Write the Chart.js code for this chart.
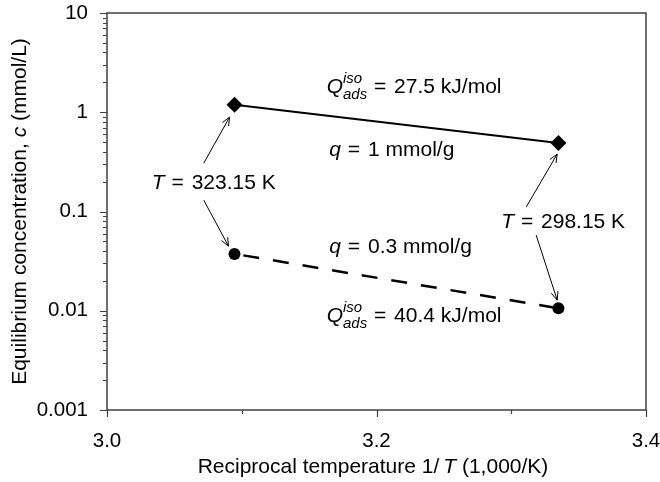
<!DOCTYPE html>
<html>
<head>
<meta charset="utf-8">
<script src="https://cdn.jsdelivr.net/npm/chart.js@4"></script>
<style>
  html, body { margin: 0; padding: 0; background: #fff; }
  #wrap { width: 660px; height: 482px; }
</style>
</head>
<body>
<div id="wrap"><canvas id="chart"></canvas></div>
<script>
// reciprocal temperature 1000/T for 323.15 K and 298.15 K
const invT = [3.0946, 3.335];
const cHighQ = [1.19, 0.49];     // q = 1 mmol/g
const cLowQ = [0.0374, 0.0106];  // q = 0.3 mmol/g
const xTicks = [3.0, 3.1, 3.2, 3.3, 3.4];
const xLabels = ["3.0", "", "3.2", "", "3.4"];
const yTicks = [0.001, 0.01, 0.1, 1, 10];
const yLabels = ["0.001", "0.01", "0.1", "1", "10"];

const FONT = '"Liberation Sans", Arial, sans-serif';
const axisColor = "#404040";
const TXT = 21;

// "=" gets a little extra room, like typeset maths
const eq = (rest) => [{ t: " =", gap: 1 }, { t: " " + rest, gap: 2 }];

// annotation anchors in data units
const notes = [
  { x: 3.163, y: 1.80, parts: [{ t: "Q", it: true }, { sup: "iso", sub: "ads" }, ...eq("27.5 kJ/mol")] },
  { x: 3.165, y: 0.415, parts: [{ t: "q", it: true }, ...eq("1 mmol/g")] },
  { x: 3.0333, y: 0.193, parts: [{ t: "T", it: true }, ...eq("323.15 K")] },
  { x: 3.2926, y: 0.078, parts: [{ t: "T", it: true }, ...eq("298.15 K")] },
  { x: 3.165, y: 0.0436, parts: [{ t: "q", it: true }, ...eq("0.3 mmol/g")] },
  { x: 3.163, y: 0.0089, parts: [{ t: "Q", it: true }, { sup: "iso", sub: "ads" }, ...eq("40.4 kJ/mol")] },
];
const arrows = [
  [3.0718, 0.307, 3.0910, 0.895],
  [3.0718, 0.130, 3.0902, 0.0447],
  [3.3111, 0.111, 3.3341, 0.379],
  [3.3185, 0.0578, 3.3341, 0.0128],
];

function setFont(ctx, it, size) {
  ctx.font = (it ? "italic " : "") + size + "px " + FONT;
}

function drawRich(ctx, parts, x, y, size) {
  ctx.textBaseline = "middle";
  ctx.textAlign = "left";
  parts.forEach((p) => {
    if (p.sup) {
      setFont(ctx, true, 15);
      const w = Math.max(ctx.measureText(p.sup).width, ctx.measureText(p.sub).width);
      ctx.fillText(p.sup, x, y - 8);
      ctx.fillText(p.sub, x, y + 8);
      x += w;
    } else {
      setFont(ctx, p.it, size);
      ctx.fillText(p.t, x + (p.gap || 0), y);
      x += ctx.measureText(p.t).width + (p.gap || 0);
    }
  });
  return x;
}

function richWidth(ctx, parts, size) {
  let w = 0;
  parts.forEach((p) => {
    setFont(ctx, p.it, size);
    w += ctx.measureText(p.t).width + (p.gap || 0);
  });
  return w;
}

const decor = {
  id: "decor",
  afterDraw(chart) {
    const ctx = chart.ctx;
    const a = chart.chartArea;
    const xs = chart.scales.x;
    const ys = chart.scales.y;
    ctx.save();

    // frame
    ctx.strokeStyle = axisColor;
    ctx.lineWidth = 1.5;
    ctx.strokeRect(a.left, a.top, a.right - a.left, a.bottom - a.top);

    // x ticks
    ctx.lineWidth = 1.2;
    ctx.beginPath();
    xTicks.forEach((v, i) => {
      const px = Math.round(xs.getPixelForValue(v)) + 0.5;
      ctx.moveTo(px, a.bottom);
      ctx.lineTo(px, a.bottom + (xLabels[i] ? 7 : 4));
    });
    // y ticks, major + minor
    yTicks.forEach((v, i) => {
      const py = Math.round(ys.getPixelForValue(v)) + 0.5;
      ctx.moveTo(a.left, py);
      ctx.lineTo(a.left - 7, py);
      if (i < yTicks.length - 1) {
        for (let m = 2; m <= 9; m++) {
          const pm = Math.round(ys.getPixelForValue(v * m)) + 0.5;
          ctx.moveTo(a.left, pm);
          ctx.lineTo(a.left - 4, pm);
        }
      }
    });
    ctx.stroke();

    // axis titles
    ctx.fillStyle = "#000";
    const xt = [{ t: "Reciprocal temperature 1/" }, { t: "T", it: true, gap: 4 }, { t: " (1,000/K)" }];
    const wx = richWidth(ctx, xt, TXT);
    drawRich(ctx, xt, 373 - wx / 2, 467, TXT);

    const yt = [{ t: "Equilibrium concentration, " }, { t: "c", it: true }, { t: " (mmol/L)" }];
    const wy = richWidth(ctx, yt, TXT);
    ctx.save();
    ctx.translate(20, (a.top + a.bottom) / 2);
    ctx.rotate(-Math.PI / 2);
    drawRich(ctx, yt, -wy / 2, 0, TXT);
    ctx.restore();

    // annotations
    notes.forEach((n) => {
      drawRich(ctx, n.parts, xs.getPixelForValue(n.x), ys.getPixelForValue(n.y), TXT);
    });

    // arrows
    ctx.strokeStyle = "#000";
    ctx.lineWidth = 1;
    arrows.forEach(([x0, y0, x1, y1]) => {
      const p0 = [xs.getPixelForValue(x0), ys.getPixelForValue(y0)];
      const p1 = [xs.getPixelForValue(x1), ys.getPixelForValue(y1)];
      const ang = Math.atan2(p1[1] - p0[1], p1[0] - p0[0]);
      ctx.beginPath();
      ctx.moveTo(p0[0], p0[1]);
      ctx.lineTo(p1[0], p1[1]);
      for (const s of [-1, 1]) {
        ctx.moveTo(p1[0], p1[1]);
        ctx.lineTo(p1[0] - 9 * Math.cos(ang + s * 0.4), p1[1] - 9 * Math.sin(ang + s * 0.4));
      }
      ctx.stroke();
    });

    ctx.restore();
  },
};

const noPad = (s) => {
  s.paddingLeft = 0;
  s.paddingRight = 0;
  s.paddingTop = 0;
  s.paddingBottom = 0;
};

new Chart(document.getElementById("chart"), {
  type: "scatter",
  data: {
    datasets: [
      {
        label: "q = 1 mmol/g",
        data: invT.map((x, i) => ({ x, y: cHighQ[i] })),
        showLine: true,
        borderColor: "#000",
        borderWidth: 2.2,
        backgroundColor: "#000",
        pointStyle: "rectRot",
        pointRadius: 8,
        pointBorderWidth: 0,
      },
      {
        label: "q = 0.3 mmol/g",
        data: invT.map((x, i) => ({ x, y: cLowQ[i] })),
        showLine: true,
        borderColor: "#000",
        borderWidth: 2.5,
        borderDash: [16, 14],
        borderDashOffset: 21,
        backgroundColor: "#000",
        pointStyle: "circle",
        pointRadius: 6,
        pointBorderWidth: 0,
      },
    ],
  },
  options: {
    responsive: true,
    maintainAspectRatio: false,
    animation: false,
    layout: { padding: { left: 0, top: 13, right: 14, bottom: 0 } },
    plugins: { legend: { display: false }, tooltip: { enabled: false } },
    scales: {
      x: {
        type: "linear",
        min: 3.0,
        max: 3.4,
        afterBuildTicks: (s) => { s.ticks = xTicks.map((v) => ({ value: v })); },
        afterFit: (s) => { s.height = 72; noPad(s); },
        ticks: {
          color: "#000",
          font: { family: FONT, size: 20.5 },
          padding: 11,
          maxRotation: 0,
          autoSkip: false,
          callback: (v) => xLabels[xTicks.findIndex((t) => Math.abs(t - v) < 1e-6)] || "",
        },
        grid: { display: false },
        border: { display: false },
      },
      y: {
        type: "logarithmic",
        min: 0.001,
        max: 10,
        afterBuildTicks: (s) => { s.ticks = yTicks.map((v) => ({ value: v })); },
        afterFit: (s) => { s.width = 107; noPad(s); },
        ticks: {
          color: "#000",
          font: { family: FONT, size: 20.5 },
          padding: 11,
          autoSkip: false,
          callback: (v) => yLabels[yTicks.findIndex((t) => Math.abs(t - v) / t < 1e-6)] || "",
        },
        grid: { display: false },
        border: { display: false },
      },
    },
  },
  plugins: [decor],
});
</script>
</body>
</html>
